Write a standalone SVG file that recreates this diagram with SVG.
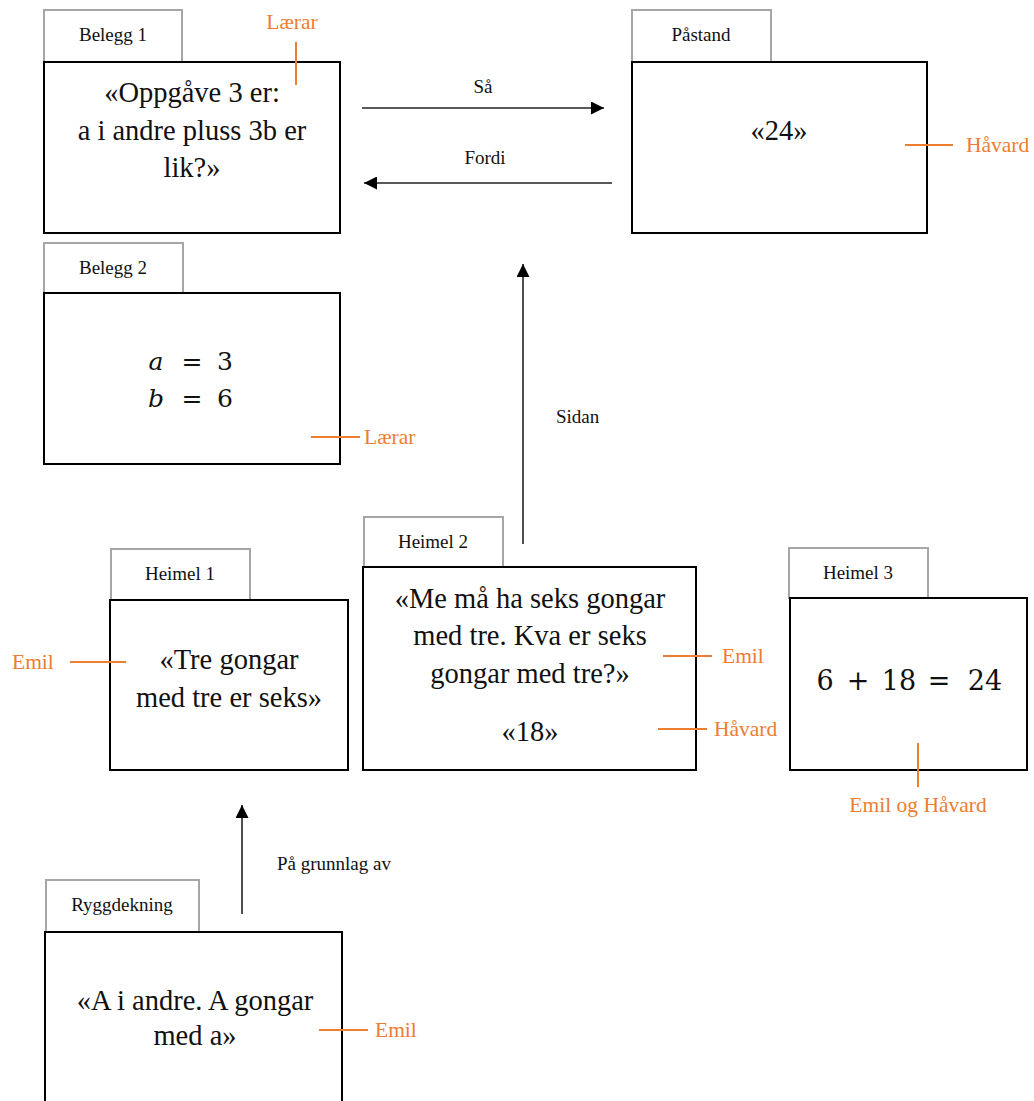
<svg xmlns="http://www.w3.org/2000/svg" width="1034" height="1101" viewBox="0 0 1034 1101">
  <style>
    .tab { fill: #ffffff; stroke: #a6a6a6; stroke-width: 2; }
    .box { fill: #ffffff; stroke: #000000; stroke-width: 2; }
    .tabtxt { font-family: "Liberation Serif", "Times New Roman", serif; font-size: 19px; fill: #111111; text-anchor: middle; }
    .body { font-family: "Liberation Serif", "Times New Roman", serif; font-size: 28.5px; fill: #111111; text-anchor: middle; }
    .math { font-family: "DejaVu Serif", serif; fill: #111111; text-anchor: middle; }
    .mi { font-style: italic; }
    .who { font-family: "Liberation Serif", "Times New Roman", serif; font-size: 21.5px; fill: #ed7d31; }
    .tick { stroke: #ed7d31; stroke-width: 2; fill: none; }
    .conn { stroke: #222222; stroke-width: 1.6; fill: none; marker-end: url(#head); }
    .lbl { font-family: "Liberation Serif", "Times New Roman", serif; font-size: 19px; fill: #111111; }
  </style>
  <defs>
    <marker id="head" viewBox="0 0 10 10" refX="10" refY="5" markerWidth="14" markerHeight="13" markerUnits="userSpaceOnUse" orient="auto">
      <path d="M0,0 L10,5 L0,10 Z" fill="#000000"/>
    </marker>
  </defs>
  <rect width="1034" height="1101" fill="#ffffff"/>

  <!-- Belegg 1 -->
  <g id="belegg1">
    <rect class="tab" x="44" y="10" width="138" height="52"/>
    <text class="tabtxt" x="113" y="41">Belegg 1</text>
    <rect class="box" x="44" y="62" width="296" height="171"/>
    <text class="body" x="192" y="102">«Oppgåve 3 er:</text>
    <text class="body" x="192" y="140">a i andre pluss 3b er</text>
    <text class="body" x="192" y="177">lik?»</text>
    <line class="tick" x1="296" y1="42" x2="296" y2="85"/>
    <text class="who" x="292" y="29" text-anchor="middle">Lærar</text>
  </g>

  <!-- Påstand -->
  <g id="pastand">
    <rect class="tab" x="632" y="10" width="139" height="52"/>
    <text class="tabtxt" x="701" y="41">Påstand</text>
    <rect class="box" x="632" y="62" width="295" height="171"/>
    <text class="body" x="779" y="140">«24»</text>
    <line class="tick" x1="905" y1="145" x2="953" y2="145"/>
    <text class="who" x="966" y="152">Håvard</text>
  </g>

  <!-- Belegg 2 -->
  <g id="belegg2">
    <rect class="tab" x="44" y="243" width="139" height="50"/>
    <text class="tabtxt" x="113" y="274">Belegg 2</text>
    <rect class="box" x="44" y="293" width="296" height="171"/>
    <g class="math" font-size="25">
      <text class="mi" x="156" y="370">a</text>
      <text x="192" y="370">=</text>
      <text x="225" y="370">3</text>
      <text class="mi" x="156" y="407">b</text>
      <text x="192" y="407">=</text>
      <text x="225" y="407">6</text>
    </g>
    <line class="tick" x1="311" y1="437" x2="360" y2="437"/>
    <text class="who" x="364" y="444">Lærar</text>
  </g>

  <!-- Heimel 1 -->
  <g id="heimel1">
    <rect class="tab" x="111" y="549" width="139" height="51"/>
    <text class="tabtxt" x="180" y="580">Heimel 1</text>
    <rect class="box" x="110" y="600" width="238" height="170"/>
    <text class="body" x="229" y="669">«Tre gongar</text>
    <text class="body" x="229" y="707">med tre er seks»</text>
    <line class="tick" x1="70" y1="662" x2="126" y2="662"/>
    <text class="who" x="12" y="669">Emil</text>
  </g>

  <!-- Heimel 2 -->
  <g id="heimel2">
    <rect class="tab" x="364" y="517" width="139" height="50"/>
    <text class="tabtxt" x="433" y="548">Heimel 2</text>
    <rect class="box" x="363" y="567" width="333" height="203"/>
    <text class="body" x="530" y="608">«Me må ha seks gongar</text>
    <text class="body" x="530" y="645">med tre. Kva er seks</text>
    <text class="body" x="530" y="683">gongar med tre?»</text>
    <text class="body" x="530" y="741">«18»</text>
    <line class="tick" x1="663" y1="656" x2="712" y2="656"/>
    <text class="who" x="722" y="663">Emil</text>
    <line class="tick" x1="658" y1="729" x2="707" y2="729"/>
    <text class="who" x="714" y="736">Håvard</text>
  </g>

  <!-- Heimel 3 -->
  <g id="heimel3">
    <rect class="tab" x="789" y="548" width="139" height="50"/>
    <text class="tabtxt" x="858" y="579">Heimel 3</text>
    <rect class="box" x="790" y="598" width="237" height="172"/>
    <g class="math" font-size="27">
      <text x="825" y="690">6</text>
      <text x="858" y="690">+</text>
      <text x="899" y="690">18</text>
      <text x="939" y="690">=</text>
      <text x="985" y="690">24</text>
    </g>
    <line class="tick" x1="918" y1="743" x2="918" y2="787"/>
    <text class="who" x="918" y="812" text-anchor="middle">Emil og Håvard</text>
  </g>

  <!-- Ryggdekning -->
  <g id="ryggdekning">
    <rect class="tab" x="46" y="880" width="153" height="52"/>
    <text class="tabtxt" x="122" y="911">Ryggdekning</text>
    <rect class="box" x="45" y="932" width="297" height="190"/>
    <text class="body" x="195" y="1010">«A i andre. A gongar</text>
    <text class="body" x="195" y="1045">med a»</text>
    <line class="tick" x1="319" y1="1030" x2="368" y2="1030"/>
    <text class="who" x="375" y="1037">Emil</text>
  </g>

  <!-- Connectors -->
  <g id="connectors">
    <line class="conn" x1="362" y1="108" x2="604" y2="108"/>
    <text class="lbl" x="483" y="93" text-anchor="middle">Så</text>
    <line class="conn" x1="612" y1="183" x2="364" y2="183"/>
    <text class="lbl" x="485" y="164" text-anchor="middle">Fordi</text>
    <line class="conn" x1="523" y1="544" x2="523" y2="264"/>
    <text class="lbl" x="556" y="423">Sidan</text>
    <line class="conn" x1="242" y1="914" x2="242" y2="805"/>
    <text class="lbl" x="277" y="870">På grunnlag av</text>
  </g>
</svg>
